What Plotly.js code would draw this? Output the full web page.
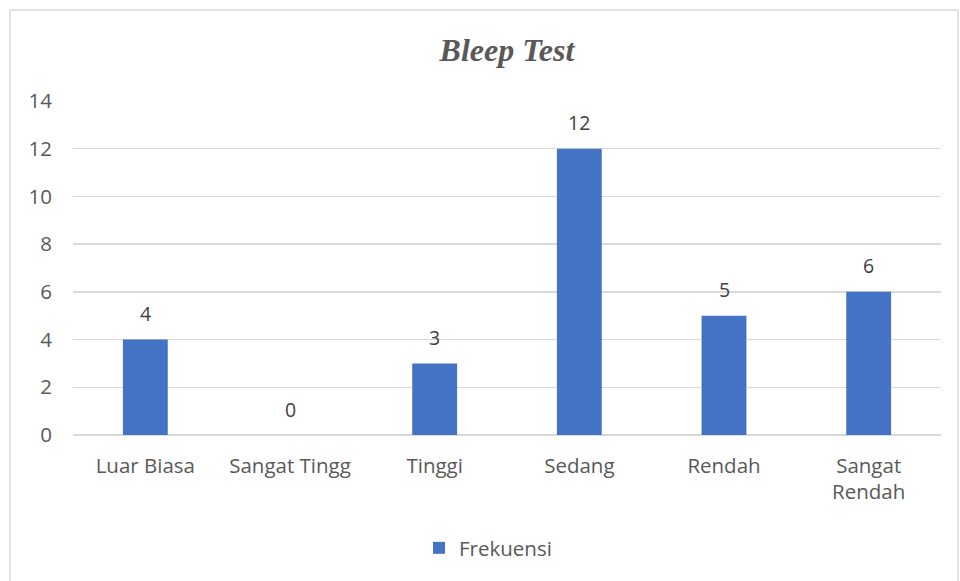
<!DOCTYPE html>
<html>
<head>
<meta charset="utf-8">
<script src="https://cdn.plot.ly/plotly-3.0.1.min.js"></script>
<style>html,body{margin:0;padding:0;background:#fff;}#chart{width:960px;height:581px;}</style>
</head>
<body>
<div id="chart"></div>
<script>
const categories = ["Luar Biasa", "Sangat Tingg", "Tinggi", "Sedang", "Rendah", "Sangat<br>Rendah"];
const frekuensi = [4, 0, 3, 12, 5, 6];
const yTicks = [0, 2, 4, 6, 8, 10, 12, 14];
const seriesName = "Frekuensi";
const chartTitle = "Bleep Test";

const FONT = '"Open Sans", "Noto Sans", sans-serif';

const annotations = categories.map((c, i) => ({
  x: c, y: frekuensi[i], xref: 'x', yref: 'y',
  text: String(frekuensi[i]), showarrow: false,
  yanchor: 'middle', yshift: 26,
  font: {family: FONT, size: 19.5, color: '#404040'}
}));

const trace = {
  type: 'bar', x: categories, y: frekuensi, name: seriesName,
  marker: {color: '#4472C4'}, hoverinfo: 'none'
};

const layout = {
  width: 960, height: 581,
  margin: {l: 73, r: 19, t: 101, b: 146},
  paper_bgcolor: '#fff', plot_bgcolor: '#fff',
  bargap: 0.69,
  title: {
    text: chartTitle, x: 0.5, xanchor: 'center', xref: 'paper',
    y: 1 - 50/581, yref: 'container', yanchor: 'middle',
    font: {family: '"Liberation Serif", "Times New Roman", serif', size: 32, color: '#595959', style: 'italic', weight: 'bold'}
  },
  xaxis: {
    type: 'category', showgrid: false, zeroline: false, showline: false,
    ticks: '', ticklen: 0, ticklabelstandoff: 16,
    tickfont: {family: FONT, size: 20.5, color: '#595959'}
  },
  yaxis: {
    range: [0, 14], tickvals: yTicks, ticktext: yTicks.map(String),
    showgrid: true, gridcolor: '#d9d9d9', gridwidth: 1.5,
    zeroline: true, zerolinecolor: '#d9d9d9', zerolinewidth: 1.5,
    showline: false, ticks: '', ticklabelstandoff: 20,
    tickfont: {family: FONT, size: 20.5, color: '#595959'}
  },
  showlegend: true,
  legend: {
    orientation: 'h', x: 0.5 - 19/868, xanchor: 'center', xref: 'paper',
    y: (435 - 548)/334, yanchor: 'middle',
    font: {family: FONT, size: 20.5, color: '#595959'},
    itemwidth: 30
  },
  annotations: annotations,
  shapes: [{
    type: 'rect', xref: 'paper', yref: 'paper',
    x0: (10 - 73)/868, x1: (958 - 73)/868,
    y0: (435 - 600)/334, y1: (435 - 10)/334,
    line: {color: '#d9d9d9', width: 1.5}, fillcolor: 'rgba(0,0,0,0)', layer: 'below'
  }]
};

Plotly.newPlot('chart', [trace], layout, {displayModeBar: false, staticPlot: true});
</script>
</body>
</html>
